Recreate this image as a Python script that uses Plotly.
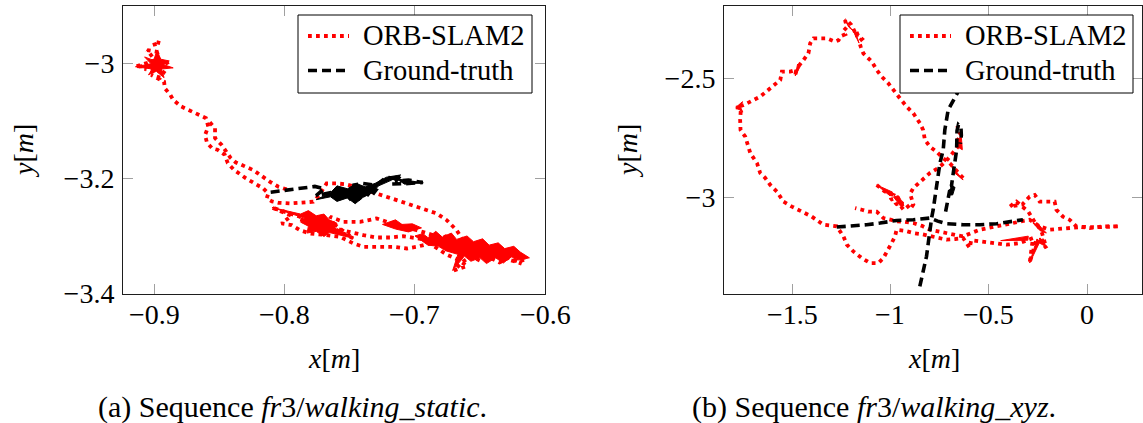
import plotly.graph_objects as go

# ---------------- fr3/walking_static ----------------
ws_orb = [
    (-0.8960, -2.9650), (-0.9010, -2.9620), (-0.8985, -2.9800), (-0.9060, -2.9770),
    (-0.9000, -2.9950), (-0.9150, -3.0060), (-0.9020, -3.0040), (-0.8890, -2.9970),
    (-0.8970, -3.0080), (-0.9080, -3.0100), (-0.8990, -3.0150), (-0.8920, -3.0120),
    (-0.8960, -3.0250), (-0.9030, -3.0200), (-0.8930, -3.0320),
    (-0.8924, -3.0434), (-0.8882, -3.0549), (-0.8860, -3.0636), (-0.8798, -3.0751),
    (-0.8729, -3.0821), (-0.8659, -3.0896), (-0.8608, -3.0954),
    (-0.8590, -3.1100), (-0.8615, -3.1247), (-0.8600, -3.1380), (-0.8560, -3.1480),
    (-0.8519, -3.1503), (-0.8463, -3.1590), (-0.8440, -3.1734), (-0.8393, -3.1850),
    (-0.8300, -3.2000), (-0.8230, -3.2087), (-0.8167, -3.2175), (-0.8128, -3.2262),
    (-0.8141, -3.2348), (-0.8100, -3.2400), (-0.8051, -3.2424), (-0.7962, -3.2435),
    (-0.7884, -3.2424), (-0.7782, -3.2406), (-0.7740, -3.2300),
    (-0.7700, -3.2150), (-0.7680, -3.2088), (-0.7603, -3.2088), (-0.7538, -3.2100),
    (-0.7450, -3.2150), (-0.7380, -3.2200), (-0.7320, -3.2232), (-0.7244, -3.2290),
    (-0.7141, -3.2377), (-0.7064, -3.2435), (-0.6987, -3.2493), (-0.6910, -3.2550),
    (-0.6833, -3.2610), (-0.6756, -3.2725), (-0.6718, -3.2812), (-0.6680, -3.2900),
    (-0.6640, -3.3040), (-0.6600, -3.3180), (-0.6520, -3.3120), (-0.6480, -3.3250),
    (-0.6410, -3.3180), (-0.6360, -3.3320), (-0.6300, -3.3260), (-0.6260, -3.3380),
    (-0.6200, -3.3330), (-0.6140, -3.3390), (-0.6200, -3.3450), (-0.6280, -3.3380),
    (-0.6350, -3.3460), (-0.6420, -3.3380), (-0.6500, -3.3430), (-0.6570, -3.3350),
    (-0.6640, -3.3460), (-0.6700, -3.3600), (-0.6600, -3.3520), (-0.6680, -3.3400),
    (-0.6760, -3.3320),
    (-0.6885, -3.3130), (-0.6987, -3.3189), (-0.7064, -3.3218), (-0.7167, -3.3189),
    (-0.7244, -3.3189), (-0.7320, -3.3189), (-0.7397, -3.3189), (-0.7474, -3.3130),
    (-0.7577, -3.3015), (-0.7680, -3.2986), (-0.7808, -3.2957), (-0.7885, -3.2900),
    (-0.7949, -3.2812), (-0.8026, -3.2783),
    (-0.7950, -3.2650), (-0.8103, -3.2505), (-0.7885, -3.2667), (-0.7780, -3.2800),
    (-0.7700, -3.2700), (-0.7720, -3.2900), (-0.7620, -3.2800), (-0.7474, -3.3044),
    (-0.7600, -3.2900), (-0.7654, -3.2667), (-0.7551, -3.2754), (-0.7423, -3.2754),
    (-0.7295, -3.2696), (-0.7218, -3.2754), (-0.7115, -3.2812), (-0.6987, -3.2900),
    (-0.6860, -3.2986),
    (-0.6800, -3.3050), (-0.6740, -3.2980), (-0.6700, -3.3100), (-0.6620, -3.3150),
    (-0.6560, -3.3280), (-0.6480, -3.3300), (-0.6400, -3.3400), (-0.6300, -3.3350),
    (-0.6240, -3.3420), (-0.6180, -3.3480),
    (-0.6400, -3.3330), (-0.6600, -3.3200), (-0.6760, -3.3120),
    (-0.6885, -3.3073), (-0.6987, -3.3027), (-0.7090, -3.3004), (-0.7192, -3.3027),
    (-0.7295, -3.3027), (-0.7397, -3.2986), (-0.7500, -3.2928), (-0.7628, -3.2870),
    (-0.7750, -3.2800), (-0.7900, -3.2700),
    (None, None),
    (-0.7987, -3.2190), (-0.8051, -3.2145), (-0.8115, -3.2059), (-0.8167, -3.1972),
    (-0.8244, -3.1856), (-0.8300, -3.1800), (-0.8380, -3.1720), (-0.8420, -3.1640),
    (-0.8460, -3.1520), (-0.8487, -3.1420), (-0.8538, -3.1300), (-0.8538, -3.1130),
    (-0.8580, -3.1020),
]

# dense jitter of the estimate, where consecutive poses pile up into solid patches
ws_orb_jitter = [
    (-0.9150, -3.0060), (-0.9030, -3.0010), (-0.9080, -2.9890), (-0.9010, -2.9950),
    (-0.8985, -2.9780), (-0.8955, -2.9930), (-0.8890, -2.9960), (-0.8940, -3.0020),
    (-0.8860, -3.0080), (-0.8950, -3.0100), (-0.8930, -3.0250), (-0.8990, -3.0140),
    (-0.9050, -3.0200), (-0.9020, -3.0100), (-0.9150, -3.0060),
    (None, None),
    (-0.8100, -3.2505), (-0.7880, -3.2620), (-0.7820, -3.2560), (-0.7760, -3.2650),
    (-0.7700, -3.2620), (-0.7660, -3.2720), (-0.7600, -3.2780), (-0.7620, -3.2860),
    (-0.7475, -3.3040), (-0.7660, -3.2940), (-0.7700, -3.3010), (-0.7760, -3.2920),
    (-0.7830, -3.2950), (-0.7820, -3.2830), (-0.7880, -3.2760), (-0.7850, -3.2690),
    (-0.8100, -3.2505),
    (None, None),
    (-0.7250, -3.2800), (-0.7150, -3.2720), (-0.7100, -3.2800), (-0.7020, -3.2790),
    (-0.6950, -3.2860), (-0.7050, -3.2930), (-0.7150, -3.2880), (-0.7250, -3.2800),
    (None, None),
    (-0.7000, -3.3000), (-0.6940, -3.2960), (-0.6900, -3.3030), (-0.6840, -3.2920),
    (-0.6790, -3.3020), (-0.6720, -3.2950), (-0.6680, -3.3060), (-0.6600, -3.3000),
    (-0.6550, -3.3100), (-0.6480, -3.3050), (-0.6430, -3.3160), (-0.6360, -3.3120),
    (-0.6310, -3.3220), (-0.6240, -3.3180), (-0.6190, -3.3280), (-0.6120, -3.3380),
    (-0.6200, -3.3420), (-0.6260, -3.3360), (-0.6320, -3.3470), (-0.6380, -3.3380),
    (-0.6450, -3.3480), (-0.6500, -3.3380), (-0.6570, -3.3440), (-0.6620, -3.3350),
    (-0.6710, -3.3600), (-0.6670, -3.3320), (-0.6760, -3.3260), (-0.6820, -3.3180),
    (-0.6900, -3.3160), (-0.6950, -3.3080), (-0.7000, -3.3000),
]

ws_gt = [
    (-0.8110, -3.2240), (-0.8040, -3.2220), (-0.7970, -3.2200), (-0.7900, -3.2185),
    (-0.7830, -3.2165), (-0.7770, -3.2140), (-0.7700, -3.2180), (-0.7760, -3.2300),
    (-0.7650, -3.2250), (-0.7600, -3.2320), (-0.7550, -3.2220), (-0.7500, -3.2350),
    (-0.7460, -3.2260), (-0.7420, -3.2380), (-0.7380, -3.2250), (-0.7340, -3.2320),
    (-0.7300, -3.2200), (-0.7350, -3.2150), (-0.7420, -3.2200), (-0.7480, -3.2120),
    (-0.7400, -3.2090), (-0.7300, -3.2120), (-0.7220, -3.1980), (-0.7160, -3.2000),
    (-0.7110, -3.1950), (-0.7150, -3.2050), (-0.7050, -3.2030), (-0.6940, -3.2070),
    (-0.7050, -3.2090), (-0.7200, -3.2100),
]

ws_gt_jitter = [
    (-0.7760, -3.2370), (-0.7650, -3.2250), (-0.7600, -3.2130), (-0.7520, -3.2180),
    (-0.7450, -3.2090), (-0.7380, -3.2150), (-0.7300, -3.2080), (-0.7220, -3.1980),
    (-0.7110, -3.1940), (-0.7180, -3.2030), (-0.7280, -3.2130), (-0.7330, -3.2250),
    (-0.7400, -3.2330), (-0.7460, -3.2440), (-0.7520, -3.2340), (-0.7600, -3.2400),
    (-0.7650, -3.2320), (-0.7760, -3.2370),
    (None, None),
    (-0.7140, -3.2010), (-0.6936, -3.2076), (-0.7080, -3.2100), (-0.7140, -3.2010),
]

# ---------------- fr3/walking_xyz ----------------
wx_orb = [
    (-0.631, -2.919), (-0.665, -2.885), (-0.698, -2.857), (-0.732, -2.836),
    (-0.766, -2.808), (-0.800, -2.787), (-0.825, -2.759), (-0.834, -2.717),
    (-0.850, -2.689), (-0.884, -2.647), (-0.918, -2.619), (-0.952, -2.584),
    (-0.986, -2.549), (-1.011, -2.521), (-1.045, -2.493), (-1.070, -2.465),
    (-1.095, -2.430), (-1.138, -2.395),
    (-1.150, -2.370), (-1.160, -2.345), (-1.145, -2.335), (-1.165, -2.320),
    (-1.175, -2.300), (-1.170, -2.325), (-1.190, -2.290), (-1.200, -2.275),
    (-1.215, -2.262), (-1.231, -2.255), (-1.222, -2.285), (-1.238, -2.300),
    (-1.230, -2.315), (-1.250, -2.322), (-1.264, -2.340), (-1.281, -2.346),
    (-1.323, -2.332), (-1.357, -2.332), (-1.391, -2.332),
    (-1.408, -2.353), (-1.417, -2.395), (-1.442, -2.423), (-1.476, -2.458),
    (-1.484, -2.490), (-1.480, -2.465), (-1.510, -2.472), (-1.552, -2.472),
    (-1.560, -2.507), (-1.590, -2.528), (-1.620, -2.549), (-1.662, -2.577),
    (-1.712, -2.598), (-1.746, -2.612), (-1.785, -2.622), (-1.760, -2.625),
    (-1.764, -2.675), (-1.762, -2.717), (-1.738, -2.745), (-1.712, -2.815),
    (-1.678, -2.857), (-1.662, -2.898), (-1.636, -2.919), (-1.611, -2.948),
    (-1.577, -2.976), (-1.544, -3.018), (-1.501, -3.039), (-1.450, -3.060),
    (-1.400, -3.081), (-1.341, -3.115), (-1.273, -3.122),
    (-1.239, -3.164), (-1.222, -3.199), (-1.189, -3.227), (-1.146, -3.255),
    (-1.104, -3.276), (-1.062, -3.276), (-1.036, -3.255), (-1.011, -3.220),
    (-0.994, -3.192), (-0.977, -3.164), (-0.969, -3.136),
    (-0.930, -3.140), (-0.884, -3.150), (-0.840, -3.155), (-0.783, -3.164),
    (-0.750, -3.172), (-0.715, -3.178), (-0.670, -3.175), (-0.631, -3.171),
    (-0.597, -3.213), (-0.590, -3.180), (-0.546, -3.185), (-0.479, -3.192),
    (-0.411, -3.199), (-0.343, -3.192), (-0.300, -3.180), (-0.276, -3.171),
    (-0.293, -3.276), (-0.260, -3.180), (-0.242, -3.178), (-0.208, -3.213),
    (-0.230, -3.150), (-0.250, -3.120),
    (-0.270, -3.100), (-0.300, -3.060), (-0.360, -3.018), (-0.394, -3.039),
    (-0.330, -3.030), (-0.293, -2.997), (-0.267, -2.990), (-0.242, -3.018),
    (-0.208, -3.018), (-0.166, -3.018), (-0.157, -3.052), (-0.124, -3.081),
    (-0.090, -3.094), (-0.056, -3.122), (0.012, -3.129), (0.079, -3.122),
    (0.164, -3.122),
    (0.100, -3.125), (0.040, -3.126), (-0.020, -3.124), (-0.080, -3.128),
    (-0.124, -3.129), (-0.191, -3.136), (-0.242, -3.122), (-0.293, -3.094),
    (-0.330, -3.100), (-0.377, -3.108), (-0.420, -3.115), (-0.461, -3.122),
    (-0.500, -3.130), (-0.546, -3.136), (-0.590, -3.150), (-0.631, -3.164),
    (-0.670, -3.158), (-0.715, -3.150), (-0.760, -3.140), (-0.800, -3.136),
    (-0.840, -3.120), (-0.884, -3.108), (-0.930, -3.103), (-0.969, -3.101),
    (-1.000, -3.094), (-1.036, -3.087),
    (-1.070, -3.060), (-1.113, -3.060), (-1.146, -3.052), (-1.180, -3.045),
    (None, None),
    (-1.070, -2.948), (-1.030, -2.975), (-0.986, -2.990), (-1.000, -3.010),
    (-0.960, -3.000), (-0.975, -3.030), (-0.940, -3.020), (-0.950, -3.050),
    (-0.920, -3.030), (-0.900, -3.050), (-0.884, -3.030), (-0.900, -2.985),
    (-0.884, -2.961), (-0.842, -2.927), (-0.800, -2.898), (-0.758, -2.877),
    (-0.720, -2.850), (-0.690, -2.820), (-0.670, -2.800), (-0.650, -2.780),
    (-0.660, -2.760), (-0.640, -2.740), (-0.655, -2.720), (-0.660, -2.700),
]

wx_orb_jitter = [
    (-1.785, -2.622), (-1.752, -2.598), (-1.762, -2.622), (-1.750, -2.642), (-1.785, -2.622),
    (None, None),
    (-1.484, -2.490), (-1.472, -2.440), (-1.460, -2.452), (-1.484, -2.490),
    (None, None),
    (-1.231, -2.255), (-1.212, -2.285), (-1.190, -2.300), (-1.160, -2.352),
    (-1.176, -2.310), (-1.200, -2.292), (-1.231, -2.255),
    (None, None),
    (-1.070, -2.948), (-0.990, -2.978), (-1.002, -2.994), (-1.070, -2.948),
    (None, None),
    (-0.985, -2.998), (-0.958, -2.994), (-0.932, -3.034), (-0.946, -3.040), (-0.985, -2.998),
    (None, None),
    (-0.631, -2.927), (-0.690, -2.868), (-0.678, -2.895), (-0.631, -2.927),
    (None, None),
    (-0.665, -2.760), (-0.640, -2.745), (-0.635, -2.800), (-0.655, -2.790), (-0.665, -2.760),
    (None, None),
    (-0.293, -3.276), (-0.256, -3.175), (-0.240, -3.185), (-0.293, -3.276),
    (None, None),
    (-0.276, -3.108), (-0.244, -3.118), (-0.208, -3.150), (-0.240, -3.140), (-0.276, -3.108),
    (None, None),
    (-0.252, -3.188), (-0.212, -3.206), (-0.224, -3.174), (-0.252, -3.188),
    (None, None),
    (-0.440, -3.182), (-0.300, -3.163), (-0.302, -3.180), (-0.440, -3.182),
]

wx_gt = [
    (-1.273, -3.125), (-1.206, -3.122), (-1.121, -3.115), (-1.053, -3.108),
    (-0.969, -3.097), (-0.884, -3.094), (-0.800, -3.087), (-0.760, -3.100),
    (-0.715, -3.111), (-0.631, -3.115), (-0.546, -3.115), (-0.461, -3.111),
    (-0.394, -3.101), (-0.327, -3.094),
    (None, None),
    (-0.851, -3.374), (-0.834, -3.318), (-0.817, -3.248), (-0.808, -3.192),
    (-0.800, -3.136), (-0.791, -3.087), (-0.783, -3.052), (-0.774, -2.997),
    (-0.766, -2.940), (-0.758, -2.898), (-0.749, -2.857), (-0.732, -2.801),
    (-0.724, -2.717), (-0.707, -2.633), (-0.661, -2.563), (-0.640, -2.450),
    (None, None),
    (-0.720, -3.060), (-0.715, -3.039), (-0.707, -2.997), (-0.700, -2.975),
    (-0.690, -2.969), (-0.680, -2.975), (-0.690, -2.950), (-0.682, -2.898),
    (-0.664, -2.801), (-0.662, -2.720), (-0.655, -2.695), (-0.642, -2.705),
    (-0.640, -2.740), (-0.645, -2.775),
]

wx_gt_jitter = [
    (-0.702, -2.990), (-0.690, -2.952), (-0.672, -2.958), (-0.684, -2.990), (-0.702, -2.990),
]

# axis ticks
ws_xticks = [-0.9, -0.8, -0.7, -0.6]
ws_xticktext = ["\u22120.9", "\u22120.8", "\u22120.7", "\u22120.6"]
ws_yticks = [-3.0, -3.2, -3.4]
ws_yticktext = ["\u22123", "\u22123.2", "\u22123.4"]
wx_xticks = [-1.5, -1.0, -0.5, 0.0]
wx_xticktext = ["\u22121.5", "\u22121", "\u22120.5", "0"]
wx_yticks = [-2.5, -3.0]
wx_yticktext = ["\u22122.5", "\u22123"]

series_names = ["ORB-SLAM2", "Ground-truth"]

SERIF = "Liberation Serif"
W, H = 1143, 423
ORB_COLOR, GT_COLOR = "#ff0000", "#000000"
ORB_LINE = dict(color=ORB_COLOR, width=3.8, dash="3.8px,4.2px")
GT_LINE = dict(color=GT_COLOR, width=3.6, dash="9px,5px")


def split(points):
    return [p[0] for p in points], [p[1] for p in points]


fig = go.Figure()
for pts, jitter, line, name, xa, ya in [
    (ws_orb, ws_orb_jitter, ORB_LINE, series_names[0], "x", "y"),
    (ws_gt, ws_gt_jitter, GT_LINE, series_names[1], "x", "y"),
    (wx_orb, wx_orb_jitter, ORB_LINE, series_names[0], "x2", "y2"),
    (wx_gt, wx_gt_jitter, GT_LINE, series_names[1], "x2", "y2"),
]:
    xs, ys = split(pts)
    fig.add_trace(go.Scatter(x=xs, y=ys, mode="lines", line=line, name=name,
                             xaxis=xa, yaxis=ya, showlegend=False, connectgaps=False))
    jx, jy = split(jitter)
    fig.add_trace(go.Scatter(x=jx, y=jy, mode="lines", fill="toself",
                             fillcolor=line["color"],
                             line=dict(color=line["color"], width=1),
                             name=name, xaxis=xa, yaxis=ya, showlegend=False,
                             hoverinfo="skip"))

axis_common = dict(
    showline=True, linecolor="#1e1e1e", linewidth=1, mirror="ticks",
    ticks="inside", ticklen=10, tickwidth=1, tickcolor="#a0a0a0",
    showgrid=False, zeroline=False, automargin=False,
    tickfont=dict(family=SERIF, size=28, color="black"),
)

ydom = [1 - 293.5 / H, 1 - 5.7 / H]
fig.update_layout(
    width=W, height=H, margin=dict(l=0, r=0, t=0, b=0, autoexpand=False),
    paper_bgcolor="white", plot_bgcolor="white", showlegend=False,
    xaxis=dict(domain=[123 / W, 545 / W], range=[-0.9246, -0.6],
               tickvals=ws_xticks, showticklabels=False, anchor="y", **axis_common),
    yaxis=dict(domain=ydom, range=[-3.4, -2.9], tickvals=ws_yticks,
               ticktext=ws_yticktext, anchor="x", ticklabelstandoff=2, **axis_common),
    xaxis2=dict(domain=[724 / W, 1142 / W], range=[-1.846, 0.278],
                tickvals=wx_xticks, showticklabels=False, anchor="y2", **axis_common),
    yaxis2=dict(domain=ydom, range=[-3.404, -2.195], tickvals=wx_yticks,
                ticktext=wx_yticktext, anchor="x2", ticklabelstandoff=2, **axis_common),
)

# x tick labels, set just below each bottom axis line
for xref, vals, texts in [("x", ws_xticks, ws_xticktext), ("x2", wx_xticks, wx_xticktext)]:
    for v, t in zip(vals, texts):
        fig.add_annotation(text=t, x=v, xref=xref, y=1 - 314 / H, yref="paper",
                           xanchor="center", yanchor="middle", showarrow=False,
                           font=dict(family=SERIF, size=28, color="black"))

# legend boxes (pixel geometry) drawn on top of the trajectories
for box_l, box_r in [(298, 532), (900, 1133)]:
    fig.add_shape(type="rect", xref="paper", yref="paper", layer="above",
                  x0=box_l / W, x1=box_r / W, y0=1 - 93 / H, y1=1 - 15 / H,
                  fillcolor="white", line=dict(color="black", width=1))
    for (name, line, row_y) in [(series_names[0], ORB_LINE, 36),
                                (series_names[1], GT_LINE, 70.5)]:
        fig.add_shape(type="line", xref="paper", yref="paper", layer="above",
                      x0=(box_l + 10) / W, x1=(box_l + 51) / W,
                      y0=1 - row_y / H, y1=1 - row_y / H,
                      line=dict(color=line["color"], width=line["width"],
                                dash=line["dash"]))
        fig.add_annotation(text=name, x=(box_l + 63) / W, y=1 - (row_y - 0.5) / H,
                           xref="paper", yref="paper", xanchor="left",
                           yanchor="middle", showarrow=False,
                           font=dict(family=SERIF, size=28.5, color="black"))

labels = [
    ("<i>x</i>[<i>m</i>]", 334, 358, 0, 28),
    ("<i>y</i>[<i>m</i>]", 24, 151, -90, 28),
    ("<i>x</i>[<i>m</i>]", 934, 358, 0, 28),
    ("<i>y</i>[<i>m</i>]", 628, 151, -90, 28),
    ("(a) Sequence <i>fr</i>3/<i>walking</i>_<i>static</i>.", 292, 407, 0, 30),
    ("(b) Sequence <i>fr</i>3/<i>walking</i>_<i>xyz</i>.", 874, 407, 0, 30),
]
for text, px, py, ang, size in labels:
    fig.add_annotation(text=text, x=px / W, y=1 - py / H, xref="paper", yref="paper",
                       xanchor="center", yanchor="middle", showarrow=False,
                       textangle=ang, font=dict(family=SERIF, size=size, color="black"))

fig.write_html("out.html")
